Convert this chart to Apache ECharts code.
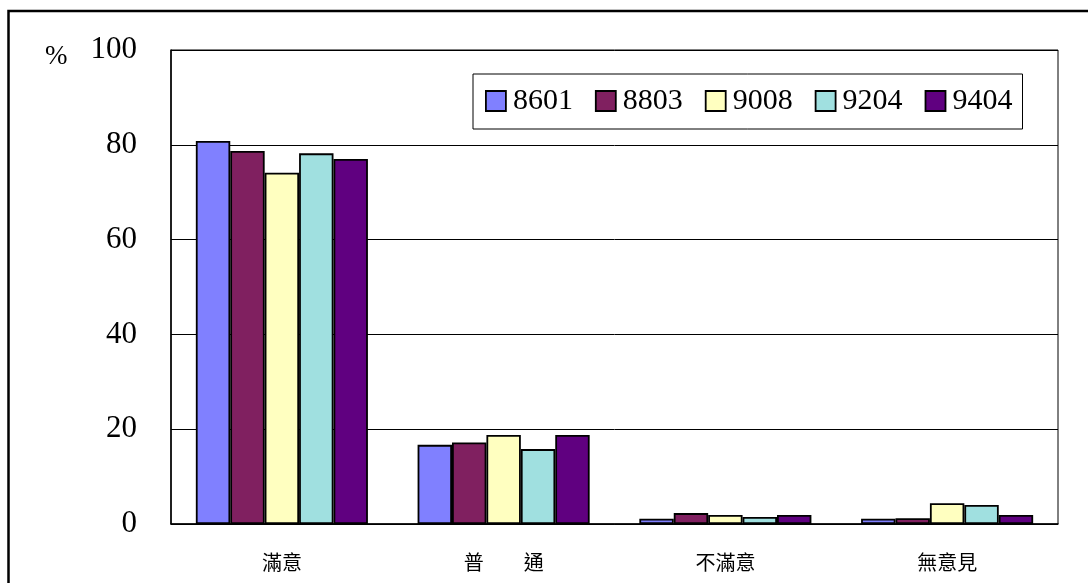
<!DOCTYPE html>
<html>
<head>
<meta charset="utf-8">
<script src="https://cdn.jsdelivr.net/npm/echarts@6/dist/echarts.min.js"></script>
<style>
html,body{margin:0;padding:0;background:#fff;}
#chart{width:1088px;height:583px;}
</style>
</head>
<body>
<div id="chart"></div>
<script>
// 類別與資料
var categories = ['滿意', '普　　通', '不滿意', '無意見'];
var yTicks = [0, 20, 40, 60, 80, 100];
var s8601 = [80.8, 16.7, 1.1, 1.1];
var s8803 = [78.7, 17.2, 2.3, 1.2];
var s9008 = [74.1, 18.8, 1.9, 4.4];
var s9204 = [78.2, 15.8, 1.5, 4.0];
var s9404 = [77.0, 18.8, 1.9, 1.9];

var names = ['8601', '8803', '9008', '9204', '9404'];
var colors = ['#8080FF', '#802060', '#FFFFC0', '#A0E0E0', '#600080'];
var values = [s8601, s8803, s9008, s9204, s9404];

var myChart = echarts.init(document.getElementById('chart'));

var series = [];
for (var i = 0; i < names.length; i++) {
    series.push({
        name: names[i],
        type: 'bar',
        data: values[i],
        barGap: '0%',
        barCategoryGap: '22.4%',
        itemStyle: {
            color: colors[i],
            borderColor: '#000',
            borderWidth: 1.8
        }
    });
}

var option = {
    animation: false,
    backgroundColor: '#fff',
    textStyle: { fontFamily: 'Liberation Serif' },
    graphic: [
        {
            type: 'rect',
            shape: { x: 8.5, y: 11, width: 1100, height: 600 },
            style: { fill: 'none', stroke: '#000', lineWidth: 2.5 },
            silent: true
        },
        {
            type: 'text',
            left: 45,
            top: 43,
            style: { text: '%', font: '27px "Liberation Serif"', fill: '#000' }
        }
    ],
    legend: {
        data: names,
        left: 473,
        top: 74,
        orient: 'horizontal',
        itemWidth: 20,
        itemHeight: 20,
        itemGap: 22,
        padding: [12, 10, 13, 12],
        borderColor: '#000',
        borderWidth: 1,
        backgroundColor: '#fff',
        icon: 'rect',
        itemStyle: { borderColor: '#000', borderWidth: 1.8 },
        textStyle: { fontFamily: 'Liberation Serif', fontSize: 30, color: '#000', padding: [0, 0, 0, 2] }
    },
    grid: {
        left: 171,
        right: 30,
        top: 50,
        bottom: 59,
        show: true,
        borderColor: '#000',
        borderWidth: 1
    },
    xAxis: {
        type: 'category',
        data: categories,
        axisLine: { lineStyle: { color: '#000', width: 1.5 } },
        axisTick: { inside: true, length: 7, lineStyle: { color: '#000' } },
        axisLabel: {
            color: '#000',
            fontFamily: 'Noto Sans CJK TC',
            fontSize: 20,
            margin: 28
        }
    },
    yAxis: {
        type: 'value',
        min: yTicks[0],
        max: yTicks[yTicks.length - 1],
        interval: 20,
        axisLine: { show: true, lineStyle: { color: '#000', width: 1.5 } },
        axisTick: { show: false },
        splitLine: { lineStyle: { color: '#000', width: 1 } },
        axisLabel: {
            color: '#000',
            fontFamily: 'Liberation Serif',
            fontSize: 31,
            margin: 34
        }
    },
    series: series
};

myChart.setOption(option);
</script>
</body>
</html>
